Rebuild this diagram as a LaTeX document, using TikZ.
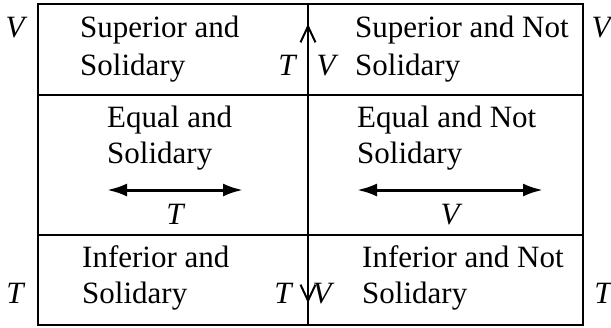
\documentclass[tikz,border=0pt]{standalone}
\usepackage{fontspec}
\setmainfont{Liberation Serif}
\usetikzlibrary{arrows.meta}
\newcommand\lab{\fontsize{31}{38}\selectfont}

\begin{document}
\begin{tikzpicture}[x=1pt, y=-1pt,
  frame/.style={line width=2pt},
  txt/.style={font=\lab, anchor=base west, inner sep=0pt},
  sym/.style={font=\lab\itshape, anchor=base, inner sep=0pt},
  arr/.style={{Latex[length=20pt,width=13pt]}-{Latex[length=20pt,width=13pt]}, line width=3pt},
  barb/.style={frame, -{Straight Barb[length=16pt,width=15pt]}}
]
\useasboundingbox (0,0) rectangle (611,327);

% grid
\coordinate (nw) at (38,4);
\coordinate (se) at (583,325);
\coordinate (midtop) at (308,4);
\coordinate (midbot) at (308,325);
\draw[frame] (nw) rectangle (se);
\draw[frame] (38,95) -- (583,95);
\draw[frame] (38,235) -- (583,235);
\draw[frame] (midtop) -- (midbot);

% arrowheads on the middle line
\coordinate (uptip) at (308,24);
\coordinate (dntip) at (308,303);
\draw[barb] (308,60) -- (uptip);
\draw[barb] (308,270) -- (dntip);

% top row
\node[txt] (sup1) at (80,37) {Superior and};
\node[txt] (sup2) at (80,75) {Solidary};
\node[txt] (supn1) at (355,37) {Superior and Not};
\node[txt] (supn2) at (355,75) {Solidary};
\node[sym] (vtl) at (15,37) {V};
\node[sym] (vtr) at (601,37) {V};
\node[sym] (ttop) at (287,75) {T};
\node[sym] (vtop) at (326,75) {V};

% middle row
\node[txt] (eq1) at (107,127) {Equal and};
\node[txt] (eq2) at (107,163) {Solidary};
\node[txt] (eqn1) at (357,127) {Equal and Not};
\node[txt] (eqn2) at (357,163) {Solidary};
\coordinate (al) at (107,190);
\coordinate (ar) at (243,190);
\coordinate (bl) at (357,190);
\coordinate (br) at (543,190);
\draw[arr] (al) -- (ar);
\draw[arr] (bl) -- (br);
\node[sym] (tmid) at (175,224) {T};
\node[sym] (vmid) at (450,224) {V};

% bottom row
\node[txt] (inf1) at (82,267) {Inferior and};
\node[txt] (inf2) at (82,303) {Solidary};
\node[txt] (infn1) at (362,267) {Inferior and Not};
\node[txt] (infn2) at (362,303) {Solidary};
\node[sym] (tbl) at (15,303) {T};
\node[sym] (tbr) at (603,303) {T};
\node[sym] (tbot) at (283,303) {T};
\node[sym] (vbot) at (322,303) {V};
\end{tikzpicture}
\end{document}
